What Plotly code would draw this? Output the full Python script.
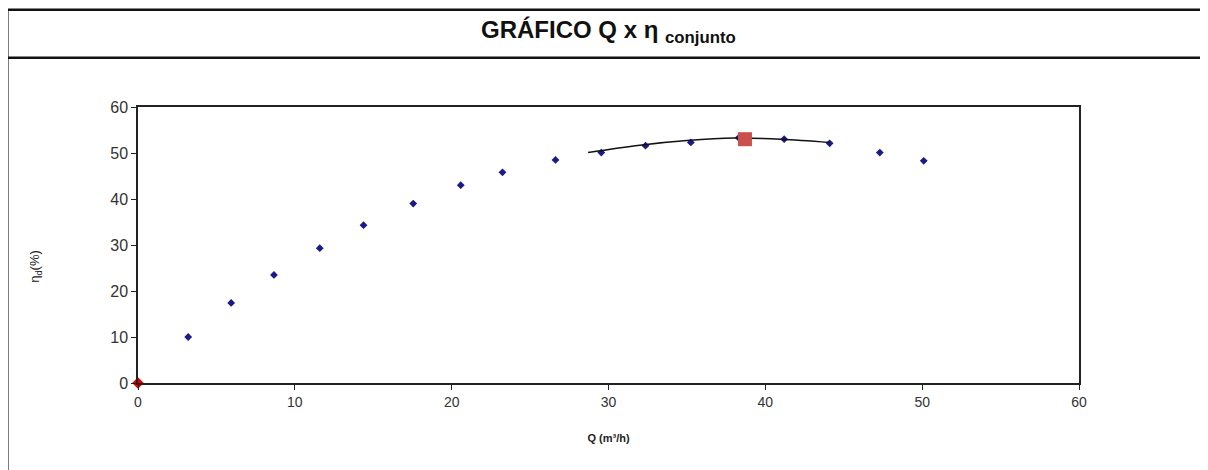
import plotly.graph_objects as go

# Data
q_points = [3.2, 5.94, 8.67, 11.59, 14.38, 17.55, 20.58, 23.24, 26.62, 29.54,
            32.36, 35.25, 38.3, 41.2, 44.1, 47.3, 50.1]
eta_points = [10.0, 17.4, 23.5, 29.3, 34.3, 39.0, 43.0, 45.8, 48.5, 50.1,
              51.6, 52.3, 53.3, 53.0, 52.1, 50.1, 48.3]

# Trend curve
q_curve = [28.7, 32.0, 35.0, 38.0, 41.0, 44.1]
eta_curve = [50.1, 51.7, 52.7, 53.25, 53.0, 52.3]

# Operating point (red square) and origin (red diamond)
q_op = [38.7]
eta_op = [53.0]
q_origin = [0]
eta_origin = [0]

x_ticks = [0, 10, 20, 30, 40, 50, 60]
y_ticks = [0, 10, 20, 30, 40, 50, 60]

fig = go.Figure()
fig.add_trace(go.Scatter(x=q_points, y=eta_points, mode="markers",
                         marker=dict(symbol="diamond", size=6, color="#1a1a8a"),
                         showlegend=False, cliponaxis=False))
fig.add_trace(go.Scatter(x=q_curve, y=eta_curve, mode="lines", line_shape="spline",
                         line=dict(color="#111111", width=1.5), showlegend=False))
fig.add_trace(go.Scatter(x=q_op, y=eta_op, mode="markers",
                         marker=dict(symbol="square", size=14, color="#c9504b"),
                         showlegend=False))
fig.add_trace(go.Scatter(x=q_origin, y=eta_origin, mode="markers",
                         marker=dict(symbol="diamond", size=9, color="#e00000"),
                         showlegend=False, cliponaxis=False))

font_family = "Liberation Sans, Arial, sans-serif"

# page has an 8px body margin: figure is 8px smaller and shifted
fig.update_layout(
    width=1200, height=462,
    margin=dict(l=130, r=129, t=99, b=87),
    paper_bgcolor="white", plot_bgcolor="white",
    font=dict(family=font_family, color="#222222"),
    xaxis=dict(range=[0, 60], tickvals=x_ticks, ticks="outside", ticklen=5,
               tickcolor="#222", showgrid=False, zeroline=False,
               showline=True, linecolor="#222", linewidth=1.5, mirror=True,
               tickfont=dict(size=14, color="#333"),
               title=dict(text="<b>Q (m³/h)</b>", font=dict(size=11, color="#222"),
                          standoff=26)),
    yaxis=dict(range=[0, 60], tickvals=y_ticks, ticks="outside", ticklen=5,
               tickcolor="#222", showgrid=False, zeroline=False,
               showline=True, linecolor="#222", linewidth=1.5, mirror=True,
               tickfont=dict(size=16, color="#333")),
    annotations=[
        dict(text="<b>GRÁFICO Q x η <sub>conjunto</sub></b>",
             xref="paper", yref="paper", x=0.5, y=1.275,
             xanchor="center", yanchor="middle", showarrow=False,
             font=dict(size=24, color="#111", family=font_family)),
        dict(text="η<sub>d</sub>(%)", textangle=-90,
             xref="paper", yref="paper", x=-0.1084, y=0.425,
             xanchor="center", yanchor="middle", showarrow=False,
             font=dict(size=13, color="#222", family=font_family)),
    ],
    shapes=[
        dict(type="rect", xref="paper", yref="paper", x0=-0.1389, x1=1.1349,
             y0=-0.35, y1=1.3525, line=dict(color="#111", width=2.5)),
        dict(type="line", xref="paper", yref="paper", x0=-0.1389, x1=1.1349,
             y0=1.1786, y1=1.1786, line=dict(color="#111", width=2.5)),
    ],
)

fig.write_html("out.html")
